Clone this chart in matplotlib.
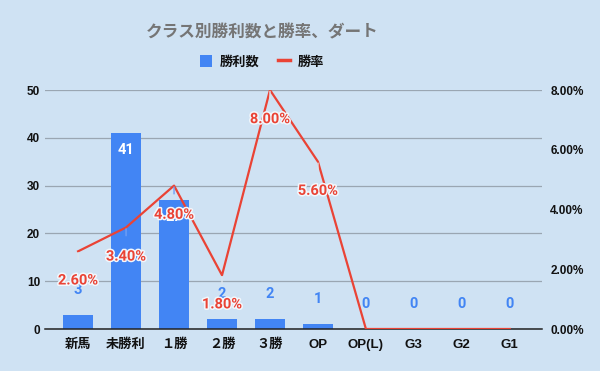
import matplotlib
matplotlib.use("Agg")
import matplotlib.pyplot as plt
import matplotlib.patheffects as pe
from matplotlib.lines import Line2D
from matplotlib.patches import Patch

plt.rcParams["font.family"] = ["Roboto", "Noto Sans CJK JP", "DejaVu Sans"]
tick_fonts = ["Liberation Sans", "Noto Sans CJK JP", "DejaVu Sans"]

categories = ["新馬", "未勝利", "１勝", "２勝", "３勝", "OP", "OP(L)", "G3", "G2", "G1"]
wins = [3, 41, 27, 2, 2, 1, 0, 0, 0, 0]
win_rate = [2.6, 3.4, 4.8, 1.8, 8.0, 5.6, 0.0, 0.0, 0.0, 0.0]
rate_labels = ["2.60%", "3.40%", "4.80%", "1.80%", "8.00%", "5.60%"]

bg = "#cfe2f3"
blue = "#4285f4"
red = "#ea4335"

fig = plt.figure(figsize=(6, 3.71), dpi=100, facecolor=bg)
ax = fig.add_axes([0.075, 0.1132, 0.8283, 0.6442], facecolor=bg)
ax2 = ax.twinx()

x = list(range(len(categories)))
ax.bar(x, wins, width=0.63, color=blue, zorder=2)
ax.set_xlim(-0.69, 9.67)
ax.set_ylim(0, 50)
ax.set_yticks([0, 10, 20, 30, 40, 50])
ax.grid(axis="y", color="#9aa6b2", linewidth=0.9, zorder=0)
ax.set_axisbelow(True)
for s in ["top", "right", "left"]:
    ax.spines[s].set_visible(False)
ax.spines["bottom"].set_color("#222222")
ax.spines["bottom"].set_linewidth(1.1)
ax.tick_params(axis="both", length=0, labelsize=8.5, colors="#111111")
ax.tick_params(axis="x", pad=7, labelsize=9.5)
ax.set_xticks(x)
ax.set_xticklabels(categories, fontweight="bold", family=tick_fonts)
for t in ax.get_yticklabels():
    t.set_fontweight("bold")
    t.set_family(tick_fonts)

# line for win rate on the right axis
ax2.plot(x, win_rate, color=red, linewidth=1.6, zorder=3)
ax2.set_ylim(0, 8)
ax2.set_yticks([0, 2, 4, 6, 8])
ax2.set_yticklabels(["%.2f%%" % v for v in [0, 2, 4, 6, 8]], fontweight="bold",
                    family=tick_fonts)
ax2.tick_params(axis="y", length=0, labelsize=8.5, colors="#111111", pad=6)
for s in ["top", "right", "left", "bottom"]:
    ax2.spines[s].set_visible(False)

halo = [pe.withStroke(linewidth=2.2, foreground="#f2f7fc")]

# bar value labels
for i, v in enumerate(wins):
    if v > 20:
        ax.annotate(str(v), (i, v), xytext=(0, -12), textcoords="offset points",
                    ha="center", va="center", color="white", fontsize=10.5,
                    fontweight="bold", zorder=4)
    else:
        ax.annotate(str(v), (i, v), xytext=(0, 18), textcoords="offset points",
                    ha="center", va="center", color=blue, fontsize=10.5,
                    fontweight="bold", zorder=4)

# rate labels with faint leader lines
for i, lab in enumerate(rate_labels):
    lead = "#dde5ec" if wins[i] < 20 else "#6f9ff5"
    ax2.annotate(lab, (i, win_rate[i]), xytext=(0, -21), textcoords="offset points",
                 ha="center", va="center", color=red, fontsize=10.5,
                 fontweight="bold", path_effects=halo, zorder=5,
                 arrowprops=dict(arrowstyle="-", color=lead, lw=1,
                                 shrinkA=8, shrinkB=1))

fig.text(0.437, 0.912, "クラス別勝利数と勝率、ダート", ha="center", va="center",
         fontsize=12, fontweight="bold", color="#757575")

handles = [Patch(facecolor=blue), Line2D([0], [0], color=red, linewidth=2.5)]
leg = fig.legend(handles, ["勝利数", "勝率"], loc="center", bbox_to_anchor=(0.437, 0.833),
                 ncol=2, frameon=False, fontsize=9.5, handlelength=0.9, handleheight=1.0,
                 columnspacing=1.4, handletextpad=0.6)
for t in leg.get_texts():
    t.set_color("#111111")
    t.set_fontweight("bold")

fig.savefig("out.png", dpi=100, facecolor=bg)
